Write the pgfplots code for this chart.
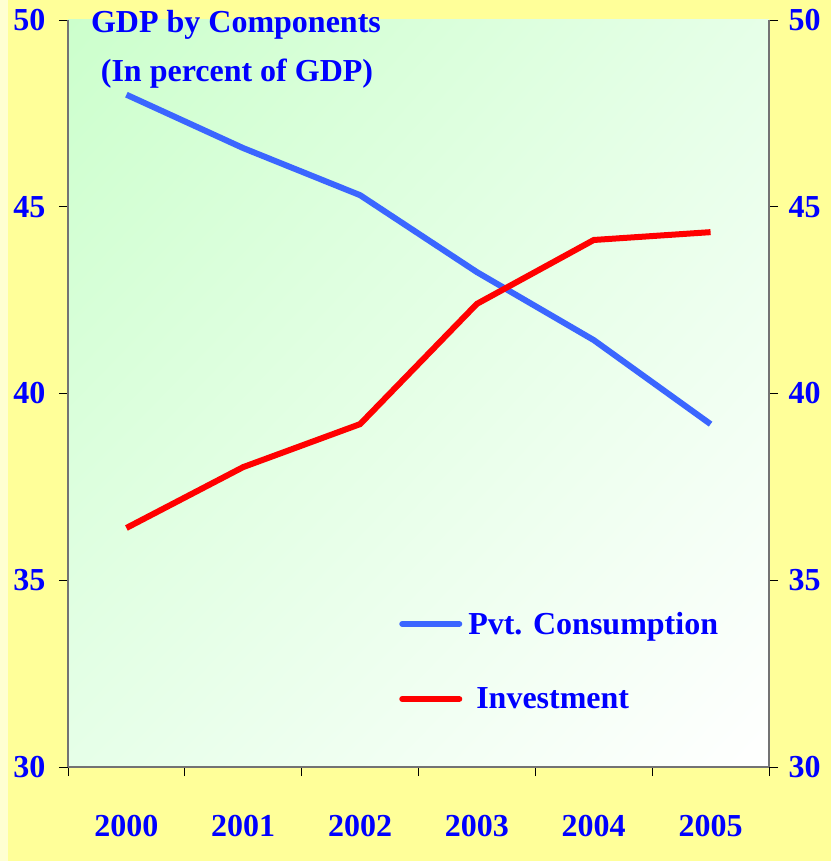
\documentclass[border=0pt]{standalone}
\usepackage{fontspec}
\setmainfont{Liberation Serif}
\usepackage{pgfplots}
\pgfplotsset{compat=1.18}
\usetikzlibrary{shadings}
\definecolor{bgyellow}{RGB}{255,255,153}
\definecolor{paleyellow}{RGB}{255,255,210}
\definecolor{txtblue}{RGB}{0,0,255}
\definecolor{consblue}{RGB}{59,102,255}
\definecolor{invred}{RGB}{255,0,0}
\definecolor{gtl}{RGB}{204,255,204}
\definecolor{gmid}{RGB}{230,255,232}
\begin{document}
\begin{tikzpicture}[x=1pt,y=1pt]
\fill[bgyellow] (0,0) rectangle (831,861);
\fill[paleyellow] (0,0) rectangle (8,861);
\useasboundingbox (0,0) rectangle (831,861);
\pgfplotsset{
  every axis/.append style={
    scale only axis, width=701pt, height=747pt,
    at={(68pt,94pt)}, anchor=south west,
    xmin=0, xmax=6, ymin=30, ymax=50,
    ytick={30,35,40,45,50},
    tick align=outside, major tick length=9pt,
    /pgf/number format/assume math mode=true,
    tick label style={font=\fontsize{32}{38}\selectfont\bfseries, text=txtblue},
    axis line style={draw=black!55, line width=1.4pt},
    tick style={black, line width=0.9pt},
  }
}
\begin{axis}[
  axis x line*=bottom, axis y line*=left,
  axis background/.style={shade, upper left=gtl, upper right=gmid, lower left=gmid, lower right=white},
  xtick={0,1,2,3,4,5,6},
  xticklabels={2000,2001,2002,2003,2004,2005,{}},
  xticklabel style={xshift=58.4pt, yshift=-36pt},
  yticklabel style={xshift=-10pt},
  legend style={draw=none, fill=none, at={(0.468,0.213)}, anchor=north west,
    font=\fontsize{32}{38}\selectfont\bfseries, text=txtblue, row sep=48pt},
  legend cell align=left,
  legend image code/.code={\draw[#1, line cap=round] (0pt,0pt) -- (57pt,0pt);},
]
\addplot[consblue, line width=6pt] coordinates {
  (0.5,48.00) (1.5,46.57) (2.5,45.31) (3.5,43.25) (4.5,41.43) (5.5,39.18)
};
\addlegendentry{\hspace{4pt}Pvt. Consumption}
\addplot[invred, line width=6pt] coordinates {
  (0.5,36.40) (1.5,38.03) (2.5,39.18) (3.5,42.40) (4.5,44.11) (5.5,44.32)
};
\addlegendentry{\hspace{12pt}Investment}
\end{axis}
\begin{axis}[
  axis y line*=right, axis x line=none,
  xtick=\empty,
  yticklabel style={xshift=7pt},
]
\addplot[draw=none] coordinates {(0,30) (6,50)};
\end{axis}
\node[font=\fontsize{32}{38}\selectfont\bfseries, text=txtblue, anchor=base] at (236,828) {GDP by Components};
\node[font=\fontsize{32}{38}\selectfont\bfseries, text=txtblue, anchor=base] at (237,779) {(In percent of GDP)};
\end{tikzpicture}
\end{document}
